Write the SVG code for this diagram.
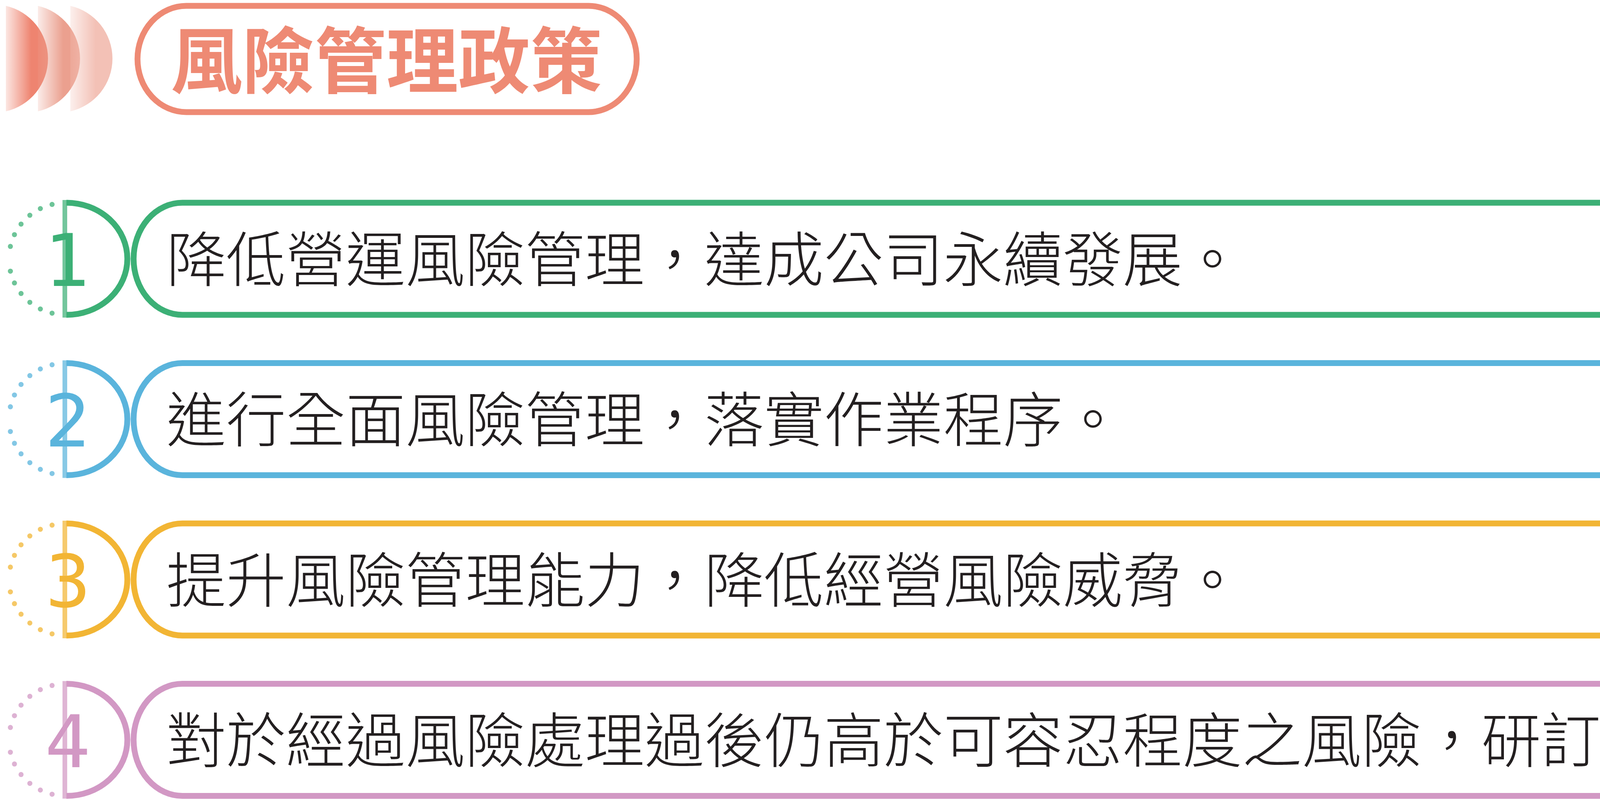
<svg xmlns="http://www.w3.org/2000/svg" xmlns:xlink="http://www.w3.org/1999/xlink" width="5577" height="2048" viewBox="0 0 5577 2048">
<style>
.pill{fill:#fff;stroke-width:15}
.dee{fill:none;stroke-width:15}
.bar{stroke-width:12;stroke-opacity:.72}
.num{font-family:"DejaVu Sans",sans-serif;font-size:185px;text-anchor:middle}
.txt{font-family:"Noto Sans CJK TC","Noto Sans CJK SC",sans-serif;font-weight:300;font-size:153px;fill:#231f20}
.ttl{font-family:"Noto Sans CJK TC","Noto Sans CJK SC",sans-serif;font-weight:700;font-size:184px;fill:#ee8a74}
</style>
<defs>
<linearGradient id="g1" x1="0" y1="0" x2="1" y2="0"><stop offset="0" stop-color="#ee8470" stop-opacity=".2"/><stop offset=".6" stop-color="#ee8470"/></linearGradient>
<linearGradient id="g2" x1="0" y1="0" x2="1" y2="0"><stop offset="0" stop-color="#eba08f" stop-opacity=".2"/><stop offset=".6" stop-color="#eba08f"/></linearGradient>
<linearGradient id="g3" x1="0" y1="0" x2="1" y2="0"><stop offset="0" stop-color="#f3c1b6" stop-opacity=".25"/><stop offset=".6" stop-color="#f3c1b6"/></linearGradient>
<path id="seg" d="M15,15 A138.4,138.4 0 0 1 15,285 Z"/>
<g id="dots" fill="currentColor" fill-opacity=".75">
<circle cx="-32.7" cy="-139.2" r="6.5"/><circle cx="-62.7" cy="-128.5" r="6.5"/><circle cx="-89.6" cy="-111.4" r="6.5"/><circle cx="-112.1" cy="-88.8" r="6.5"/><circle cx="-129" cy="-61.8" r="6.5"/><circle cx="-139.4" cy="-31.7" r="6.5"/>
<circle cx="-139.4" cy="31.7" r="6.5"/><circle cx="-129" cy="61.8" r="6.5"/><circle cx="-112.1" cy="88.8" r="6.5"/><circle cx="-89.6" cy="111.4" r="6.5"/><circle cx="-62.7" cy="128.5" r="6.5"/><circle cx="-32.7" cy="139.2" r="6.5"/>
</g>
<path id="pillShape" d="M467,519 H5429 A137,143.5 0 0 1 5429,806 H467 A125,143.5 0 0 1 467,519 Z"/>
<path id="deeShape" d="M170,519 A156,143.5 0 0 1 170,806"/>
</defs>
<rect width="5577" height="2048" fill="#fff"/>

<g id="title">
<use xlink:href="#seg" href="#seg" fill="url(#g1)"/>
<use xlink:href="#seg" href="#seg" fill="url(#g2)" transform="translate(82,0)"/>
<use xlink:href="#seg" href="#seg" fill="url(#g3)" transform="translate(165,0)"/>
<path d="M477,15 H1507 A123,136 0 0 1 1507,287 H477 A125,136 0 0 1 477,15 Z" fill="#fff" stroke="#ee8a74" stroke-width="15"/>
<text class="ttl" x="437" y="224">風險管理政策</text>
</g>

<g id="item1">
<use xlink:href="#dots" href="#dots" style="color:#3cb076" transform="translate(166,662.5)"/>
<text class="num" x="174" y="732" fill="#3cb076">1</text>
<line class="bar" x1="166" y1="512" x2="166" y2="813" stroke="#3cb076"/>
<use xlink:href="#deeShape" href="#deeShape" class="dee" stroke="#3cb076"/>
<use xlink:href="#pillShape" href="#pillShape" class="pill" stroke="#3cb076"/>
<text class="txt" x="426" y="720.5">降低營運風險管理，達成公司永續發展。</text>
</g>

<g id="item2" transform="translate(0,410.5)">
<use xlink:href="#dots" href="#dots" style="color:#5ab4dc" transform="translate(166,662.5)"/>
<text class="num" x="174" y="732" fill="#5ab4dc">2</text>
<line class="bar" x1="166" y1="512" x2="166" y2="813" stroke="#5ab4dc"/>
<use xlink:href="#deeShape" href="#deeShape" class="dee" stroke="#5ab4dc"/>
<use xlink:href="#pillShape" href="#pillShape" class="pill" stroke="#5ab4dc"/>
<text class="txt" x="426" y="720.5">進行全面風險管理，落實作業程序。</text>
</g>

<g id="item3" transform="translate(0,821)">
<use xlink:href="#dots" href="#dots" style="color:#f2b534" transform="translate(166,662.5)"/>
<text class="num" x="174" y="732" fill="#f2b534">3</text>
<line class="bar" x1="166" y1="512" x2="166" y2="813" stroke="#f2b534"/>
<use xlink:href="#deeShape" href="#deeShape" class="dee" stroke="#f2b534"/>
<use xlink:href="#pillShape" href="#pillShape" class="pill" stroke="#f2b534"/>
<text class="txt" x="426" y="720.5">提升風險管理能力，降低經營風險威脅。</text>
</g>

<g id="item4" transform="translate(0,1231.5)">
<use xlink:href="#dots" href="#dots" style="color:#d298c4" transform="translate(166,662.5)"/>
<text class="num" x="174" y="732" fill="#d298c4">4</text>
<line class="bar" x1="166" y1="512" x2="166" y2="813" stroke="#d298c4"/>
<use xlink:href="#deeShape" href="#deeShape" class="dee" stroke="#d298c4"/>
<use xlink:href="#pillShape" href="#pillShape" class="pill" stroke="#d298c4"/>
<text class="txt" x="426" y="720.5">對於經過風險處理過後仍高於可容忍程度之風險，研訂相關風險處理對策。</text>
</g>

<g id="connectors"/>
</svg>
